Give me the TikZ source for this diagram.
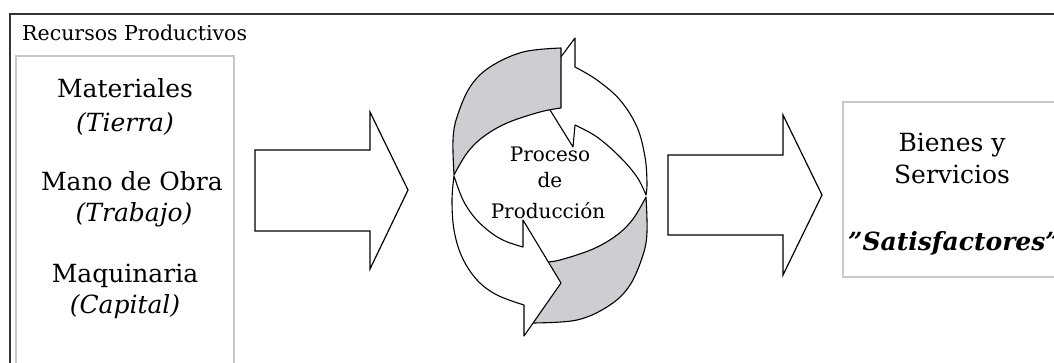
\documentclass[tikz,border=0pt]{standalone}
\usepackage{fontspec}
\setmainfont{DejaVu Serif}
\definecolor{bandgray}{RGB}{206,206,210}
\definecolor{boxgray}{RGB}{200,200,200}
\begin{document}
\begin{tikzpicture}[x=1pt,y=-1pt,
  frame/.style={draw=black!80, line width=1.6pt},
  lbox/.style={draw=boxgray, line width=1.6pt},
  blockarrow/.style={draw=black, fill=white, line width=1.2pt, line join=miter},
  whiteband/.style={draw=black, fill=white, line width=1.1pt, line join=round},
  grayband/.style={draw=black, fill=bandgray, line width=1.1pt, line join=round},
  big/.style={font=\fontsize{25}{30}\selectfont, inner sep=0pt, anchor=base},
  mid/.style={font=\fontsize{20}{23}\selectfont, inner sep=0pt, anchor=base},
  small/.style={font=\fontsize{20.5}{24}\selectfont, inner sep=0pt, anchor=base west}]
\useasboundingbox (0,0) rectangle (1054,362);
\clip (0,0) rectangle (1054,362);
\fill[white] (0,0) rectangle (1054,362);

% frames
\draw[frame] (10,380) -- (10,14) -- (1070,14);
\draw[lbox] (16,380) -- (16,56) -- (234,56) -- (234,380);
\draw[lbox] (1070,102) -- (843,102) -- (843,277) -- (1070,277);

% block arrows
\draw[blockarrow] (255,150) -- (370,150) -- (370,112) -- (408,190) -- (370,269) -- (370,231) -- (255,231) -- cycle;
\draw[blockarrow] (668,155) -- (783,155) -- (783,115) -- (822,195) -- (783,275) -- (783,235) -- (668,235) -- cycle;

% circular arrows
% upper arrow (white front face)
\draw[whiteband] (575,38) -- (537,89) -- (573,147) -- (575,125)
  -- plot[smooth, tension=0.6] coordinates {(575,125) (597,137) (620,157) (637,177) (646,195)}
  -- plot[smooth, tension=0.6] coordinates {(646,195) (647,183) (645,157) (637,127) (620,100) (597,80) (575,67)}
  -- cycle;
% lower gray band (tail of upper arrow)
\draw[grayband] plot[smooth, tension=0.6] coordinates {(646,197) (633,219) (617,235) (593,249) (560,260) (545,262)}
  -- (530,323)
  -- plot[smooth, tension=0.6] coordinates {(530,323) (577,320) (610,305) (630,285) (643,255) (647,232) (646,197)}
  -- cycle;
% lower arrow (white front face)
\draw[whiteband] (524,336) -- (561,283) -- (523,220) -- (523,247)
  -- plot[smooth, tension=0.6] coordinates {(523,247) (505,241) (490,232) (475,218) (463,200) (454,176)}
  -- plot[smooth, tension=0.6] coordinates {(454,176) (452,200) (454,230) (462,257) (477,280) (497,295) (524,305)}
  -- cycle;
% upper gray band (tail of lower arrow)
\draw[grayband] (561,48) -- (561,108)
  -- plot[smooth, tension=0.6] coordinates {(561,108) (540,112) (507,123) (483,137) (467,153) (454,175)}
  -- plot[smooth, tension=0.6] coordinates {(454,175) (453,140) (457,117) (470,87) (490,67) (523,52) (561,48)}
  -- cycle;

% texts
\node[small] (title) at (22,40) {Recursos Productivos};
\node[big] (mat) at (125,97) {Materiales};
\node[big] (tie) at (125,131) {\itshape (Tierra)};
\node[big] (mano) at (132,190) {Mano de Obra};
\node[big] (tra) at (134,221) {\itshape (Trabajo)};
\node[big] (maq) at (125,282) {Maquinaria};
\node[big] (cap) at (125,313) {\itshape (Capital)};

\node[mid] (proc) at (550,161) {Proceso};
\node[mid] (de) at (550,187) {de};
\node[mid] (prod) at (548,218) {Producción};

\node[big] (bie) at (952,151) {Bienes y};
\node[big] (ser) at (952,183) {Servicios};
\node[big] (sat) at (954,250) {\bfseries\itshape ”Satisfactores”};
\end{tikzpicture}
\end{document}
